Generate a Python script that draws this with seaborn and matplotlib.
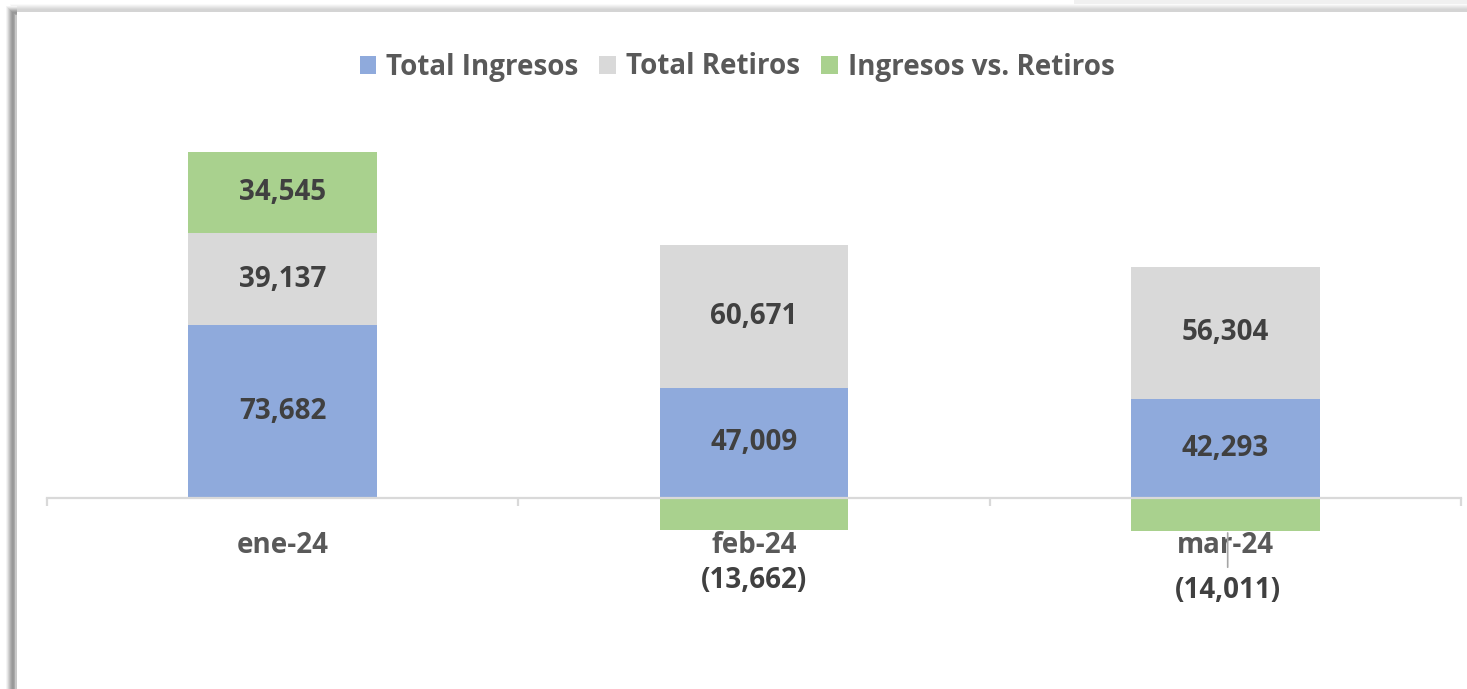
import numpy as np
import pandas as pd
import matplotlib.pyplot as plt
import seaborn as sns
from matplotlib.patches import Rectangle

# Data
meses = ["ene-24", "feb-24", "mar-24"]
total_ingresos = [73682, 47009, 42293]
total_retiros = [39137, 60671, 56304]
series_names = ["Total Ingresos", "Total Retiros", "Ingresos vs. Retiros"]

ing = np.array(total_ingresos)
ret = np.array(total_retiros)
diff = ing - ret

df = pd.DataFrame({"mes": meses, "ing": ing, "ret": ret, "diff": diff})

colors = ["#8faadc", "#d9d9d9", "#a9d18e"]
label_color = "#404040"
axis_color = "#595959"

sns.set_style("white")
plt.rcParams["font.family"] = ["Open Sans", "DejaVu Sans"]

W, H = 1467, 689
fig = plt.figure(figsize=(W / 100, H / 100), dpi=100)

def px_rect(x0, y0, x1, y1, color):
    # rectangle in image pixel coords (origin top-left)
    fig.add_artist(Rectangle((x0 / W, 1 - y1 / H), (x1 - x0) / W, (y1 - y0) / H,
                             transform=fig.transFigure, color=color, lw=0, zorder=0))

# window frame / shadow like the screenshot
px_rect(1074, 0, W, 10, "#f0f0f0")
for i, c in enumerate(["#fafafa", "#f2f2f2", "#eaeaea", "#e2e2e2", "#dadada", "#d4d4d4"]):
    px_rect(10 + i, 4 + i, W, 12, c)
for i, c in enumerate(["#f4f4f4", "#e6e6e6", "#d4d4d4", "#c2c2c2", "#b0b0b0",
                       "#a2a2a2", "#989898", "#9a9a9a", "#a8a8a8", "#c8c8c8"]):
    px_rect(6 + i, 6 + i, 17, H, c)
px_rect(17, 12, W, H, "white")

ax_bottom_px, ax_top_px = 640, 100
ax = fig.add_axes([47 / W, 1 - ax_bottom_px / H, 1414 / W, (ax_bottom_px - ax_top_px) / H])
ax.set_facecolor("none")

bottom_green = np.where(diff >= 0, ing + ret, 0)
sns.barplot(data=df, x="mes", y="ing", color=colors[0], width=0.4, ax=ax,
            label=series_names[0], saturation=1, linewidth=0)
sns.barplot(data=df, x="mes", y="ret", color=colors[1], width=0.4, ax=ax,
            label=series_names[1], saturation=1, linewidth=0, bottom=ing)
sns.barplot(data=df, x="mes", y="diff", color=colors[2], width=0.4, ax=ax,
            label=series_names[2], saturation=1, linewidth=0, bottom=bottom_green)

fmt = lambda v: f"{v:,.0f}" if v >= 0 else f"({abs(v):,.0f})"
lab_kw = dict(fontsize=20, fontweight="bold", color=label_color)
ax.bar_label(ax.containers[0], labels=[fmt(v) for v in ing], label_type="center", **lab_kw)
ax.bar_label(ax.containers[1], labels=[fmt(v) for v in ret], label_type="center", **lab_kw)

# green labels: centred when positive, below the bar when negative
offsets = [0, -36, -43]
for i, v in enumerate(diff):
    if v >= 0:
        ax.text(i, bottom_green[i] + v / 2, fmt(v), ha="center", va="center", **lab_kw)
    elif i == 2:
        ax.annotate(fmt(v), xy=(i + 0.005, v), xytext=(0, offsets[i]),
                    textcoords="offset points", ha="center", va="center",
                    arrowprops=dict(arrowstyle="-", color="#a6a6a6", lw=1.2,
                                    shrinkA=4, shrinkB=1.5), **lab_kw)
    else:
        ax.annotate(fmt(v), xy=(i, v), xytext=(0, offsets[i]),
                    textcoords="offset points", ha="center", va="center", **lab_kw)

units_per_px = 426.4
ax.set_ylim(-(ax_bottom_px - 498) * units_per_px, (498 - ax_top_px) * units_per_px)
ax.set_xlim(-0.5, 2.5)

for s in ["top", "right", "left"]:
    ax.spines[s].set_visible(False)
ax.spines["bottom"].set_position(("data", 0))
ax.spines["bottom"].set_color("#d9d9d9")
ax.spines["bottom"].set_linewidth(1.6)
ax.set_yticks([])
ax.set_xlabel("")
ax.set_ylabel("")
ax.set_xticks([-0.5, 0.5, 1.5, 2.5], minor=True)
ax.tick_params(axis="x", which="minor", bottom=True, length=6, width=1.6,
               color="#d9d9d9", direction="out")
ax.tick_params(axis="x", which="major", bottom=True, length=0, pad=24,
               labelsize=20, labelcolor=axis_color)
for t in ax.get_xticklabels():
    t.set_fontweight("bold")

handles, labels = ax.get_legend_handles_labels()
if ax.get_legend() is not None:
    ax.get_legend().remove()
leg = fig.legend(handles, labels, loc="center", bbox_to_anchor=(737 / W, 1 - 67 / H),
                 ncol=3, frameon=False, fontsize=20, handlelength=0.6, handleheight=0.6,
                 handletextpad=0.36, columnspacing=0.75)
for t in leg.get_texts():
    t.set_color(axis_color)
    t.set_fontweight("bold")

fig.savefig("out.png", dpi=100)
